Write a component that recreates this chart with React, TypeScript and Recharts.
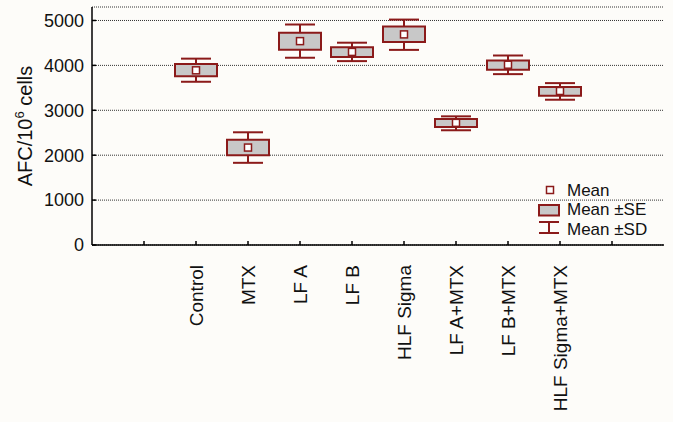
import React from "react";
import { ComposedChart, Bar, Scatter, XAxis, YAxis, CartesianGrid, Legend } from "recharts";

const categories = ["Control", "MTX", "LF A", "LF B", "HLF Sigma", "LF A+MTX", "LF B+MTX", "HLF Sigma+MTX"];
const means = [3890, 2170, 4540, 4300, 4690, 2720, 4015, 3430];
const seLow = [3760, 2000, 4350, 4185, 4520, 2630, 3905, 3325];
const seHigh = [4030, 2345, 4725, 4405, 4865, 2805, 4110, 3520];
const sdLow = [3635, 1830, 4170, 4095, 4345, 2555, 3805, 3235];
const sdHigh = [4150, 2510, 4910, 4505, 5020, 2865, 4220, 3605];
const yTicks = [0, 1000, 2000, 3000, 4000, 5000];
const xTicks = [1, 2, 3, 4, 5, 6, 7, 8, 9, 10];

const RED = "#8b1a1a";
const FONT = "'Liberation Sans', Arial, Helvetica, sans-serif";

const data = categories.map((name, i) => ({
  name,
  pos: i + 2,
  mean: means[i],
  se: [seLow[i], seHigh[i]],
  sd: [sdLow[i], sdHigh[i]],
}));

const labelByPos: Record<number, string> = {};
data.forEach((d) => {
  labelByPos[d.pos] = d.name;
});

const Whisker = (props: any) => {
  const { x, y, width, height } = props;
  if (x == null || y == null) return <g />;
  const top = Math.min(y, y + height);
  const bot = Math.max(y, y + height);
  const cx = x + width / 2;
  return (
    <g stroke={RED} strokeWidth={2} fill="none">
      <line x1={cx} x2={cx} y1={top} y2={bot} />
      <line x1={x} x2={x + width} y1={top} y2={top} />
      <line x1={x} x2={x + width} y1={bot} y2={bot} />
    </g>
  );
};

const MeanMarker = (props: any) => {
  const { cx, cy } = props;
  if (cx == null || cy == null) return <g />;
  return <rect x={cx - 3.5} y={cy - 3.5} width={7} height={7} fill="#ffffff" stroke={RED} strokeWidth={1.5} />;
};

const XTick = (props: any) => {
  const { x, y, payload } = props;
  const label = labelByPos[payload.value];
  if (!label) return <g />;
  return (
    <text
      x={x}
      y={y}
      transform={`rotate(-90, ${x}, ${y})`}
      textAnchor="end"
      dy="0.35em"
      fontSize={19}
      fill="#111"
      fontFamily={FONT}
    >
      {label}
    </text>
  );
};

const YLabel = (props: any) => {
  const vb = props.viewBox || { x: 0, y: 7, width: 92, height: 238 };
  const x = vb.x + 25;
  const y = 126;
  return (
    <text
      x={x}
      y={y}
      transform={`rotate(-90, ${x}, ${y})`}
      textAnchor="middle"
      dy="0.35em"
      fontSize={20}
      fill="#111"
      fontFamily={FONT}
    >
      AFC/10
      <tspan dy={-8} fontSize={13}>6</tspan>
      <tspan dy={8}> cells</tspan>
    </text>
  );
};

const LegendBox = () => (
  <svg width={140} height={64} style={{ display: "block" }}>
    <rect x={11.5} y={7.5} width={7} height={7} fill="#ffffff" stroke={RED} strokeWidth={1.5} />
    <text x={32} y={16.5} fontSize={17} fill="#111" fontFamily={FONT}>Mean</text>
    <rect x={4} y={26} width={20} height={10.5} fill="#c8c8c8" stroke={RED} strokeWidth={2} />
    <text x={32} y={36} fontSize={17} fill="#111" fontFamily={FONT}>Mean ±SE</text>
    <g stroke={RED} strokeWidth={2}>
      <line x1={4} x2={24} y1={43} y2={43} />
      <line x1={4} x2={24} y1={54} y2={54} />
      <line x1={14} x2={14} y1={43} y2={54} />
    </g>
    <text x={32} y={55.5} fontSize={17} fill="#111" fontFamily={FONT}>Mean ±SD</text>
  </svg>
);

export default function App() {
  return (
    <div style={{ position: "absolute", left: 0, top: 0, width: 673, height: 422, background: "#fdfcf9" }}>
      <ComposedChart width={673} height={422} data={data} margin={{ top: 7, right: 9, left: 0, bottom: 0 }}>
        <CartesianGrid horizontal vertical={false} stroke="#333" strokeDasharray="1 1" />
        <XAxis
          dataKey="pos"
          type="number"
          domain={[0, 11]}
          ticks={xTicks}
          interval={0}
          height={177}
          tick={<XTick />}
          tickSize={-4}
          tickMargin={24}
          tickLine={{ stroke: "#000", strokeWidth: 1.5 }}
          axisLine={{ stroke: "#000", strokeWidth: 1.5 }}
          allowDataOverflow
        />
        <XAxis
          xAxisId="top"
          orientation="top"
          dataKey="pos"
          type="number"
          domain={[0, 11]}
          ticks={xTicks}
          interval={0}
          height={0}
          tick={false}
          tickSize={-4}
          tickLine={{ stroke: "#000", strokeWidth: 1.5 }}
          axisLine={{ stroke: "#000", strokeWidth: 1.5 }}
          allowDataOverflow
        />
        <YAxis
          type="number"
          domain={[0, 5300]}
          ticks={yTicks}
          interval={0}
          width={92}
          tickSize={-4}
          tickMargin={12}
          tick={{ fontSize: 18, fill: "#111", fontFamily: FONT }}
          tickLine={{ stroke: "#000", strokeWidth: 1.5 }}
          axisLine={{ stroke: "#000", strokeWidth: 1.5 }}
          label={<YLabel />}
          allowDataOverflow
        />
        <YAxis
          yAxisId="right"
          orientation="right"
          type="number"
          domain={[0, 5300]}
          ticks={yTicks}
          interval={0}
          width={0}
          tick={false}
          tickSize={-4}
          tickLine={{ stroke: "#000", strokeWidth: 1.5 }}
          axisLine={{ stroke: "#000", strokeWidth: 1.5 }}
          allowDataOverflow
        />
        <Bar dataKey="sd" barSize={30} shape={<Whisker />} isAnimationActive={false} />
        <Bar
          dataKey="se"
          xAxisId="top"
          barSize={42}
          fill="#c8c8c8"
          stroke={RED}
          strokeWidth={2}
          isAnimationActive={false}
        />
        <Scatter dataKey="mean" data={data} shape={<MeanMarker />} isAnimationActive={false} />
        <Legend
          layout="horizontal"
          verticalAlign="middle"
          align="center"
          wrapperStyle={{ left: 535, top: 179, width: 140, height: 64 }}
          content={() => <LegendBox />}
        />
      </ComposedChart>
    </div>
  );
}
